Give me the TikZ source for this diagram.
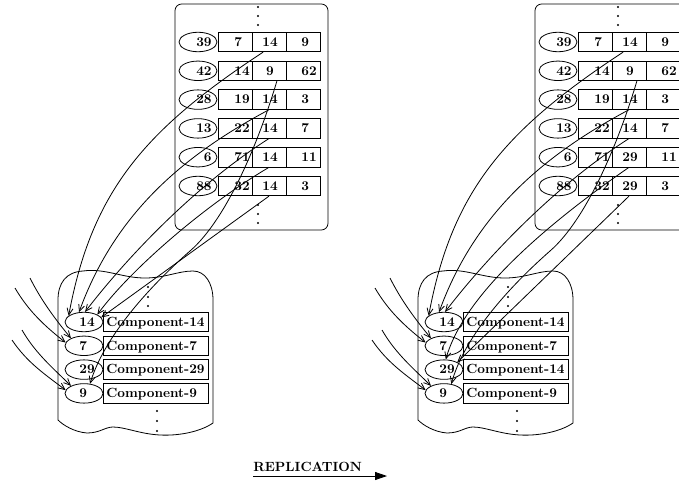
\documentclass[tikz,border=0pt]{standalone}
\usetikzlibrary{arrows.meta,shapes.geometric}

% One table panel: rounded frame, vertical dots, six rows (key oval + three cells)
\newcommand\tablepanel[2]{%
  \draw[rounded corners=5pt] (175,4) rectangle (328,230);
  \foreach \yy in {7,16,25,205,214,223} \fill (258,\yy) circle (1.1);
  \foreach \k/\a/\b/\c [count=\i] in {#2} {%
    \pgfmathsetmacro\ry{42+(\i-1)*28.8}
    \node[keyoval] (#1k\i) at (198,\ry) {};
    \node[numtext, anchor=base east] (#1kt\i) at (212,\ry+4.3) {\k};
    \node[cellbox] (#1a\i) at (235,\ry) {};
    \node[cellbox] (#1b\i) at (269,\ry) {};
    \node[cellbox] (#1c\i) at (303,\ry) {};
    \node[numtext, anchor=base west] (#1at\i) at (234,\ry+4.3) {\a};
    \node[numtext, anchor=base] (#1bt\i) at (270,\ry+4.3) {\b};
    \node[numtext, anchor=base west] (#1ct\i) at (301,\ry+4.3) {\c};
  }%
}

% One component store: wavy container, dots, four rows, incoming arrows from the left
\newcommand\comppanel[2]{%
  \draw (58,420) -- (58,300) .. controls (58,283) and (66,272) .. (83,271)
     .. controls (105,268) and (122,278) .. (145,278)
     .. controls (165,278) and (178,271) .. (193,271)
     .. controls (205,271) and (213,283) .. (213,300)
     -- (213,423)
     .. controls (200,432) and (178,436) .. (160,435)
     .. controls (140,434) and (125,427) .. (113,427)
     .. controls (105,427) and (100,433) .. (87,433)
     .. controls (74,432) and (63,425) .. (58,420) -- cycle;
  \foreach \yy in {287,297,306} \fill (148,\yy) circle (1.1);
  \foreach \yy in {411,421,431} \fill (157,\yy) circle (1.1);
  \foreach \k/\t [count=\i] in {#2} {%
    \pgfmathsetmacro\ry{322+(\i-1)*23.8}
    \node[keyoval] (#1q\i) at (84,\ry) {};
    \node[numtext, anchor=base west] (#1qt\i) at (79,\ry+4.3) {\k};
    \node[compbox] (#1m\i) at (155.5,\ry) {};
    \node[numtext, anchor=base west] (#1mt\i) at (106,\ry+4.3) {\t};
  }%
  \coordinate (#1e1) at (30,278);
  \coordinate (#1e2) at (15,288);
  \coordinate (#1e3) at (22,330);
  \coordinate (#1e4) at (12,340);
  \draw[linkarrow] (#1e1) .. controls (41,300) and (55,319) .. (#1q2.150);
  \draw[linkarrow] (#1e2) .. controls (29,312) and (46,327) .. (#1q2.170);
  \draw[linkarrow] (#1e3) .. controls (35.5,353.5) and (53.5,368.5) .. (#1q4.150);
  \draw[linkarrow] (#1e4) .. controls (27.4,363) and (46,375) .. (#1q4.170);
}

\begin{document}
\begin{tikzpicture}[x=0.75pt,y=-0.75pt,
  line width=0.6pt,
  every node/.style={font=\bfseries\fontsize{10}{12}\selectfont},
  cellbox/.style={draw, rectangle, minimum width=25.5pt, minimum height=14.6pt, inner sep=0pt},
  keyoval/.style={draw, ellipse, minimum width=28.5pt, minimum height=14.6pt, inner sep=0pt},
  compbox/.style={draw, rectangle, minimum width=78.75pt, minimum height=14.6pt, inner sep=0pt},
  numtext/.style={inner sep=0pt},
  linkarrow/.style={-{Straight Barb[length=5pt,width=4.5pt]}},
]
\useasboundingbox (0,0) rectangle (679,482);

% ---------- before replication ----------
\tablepanel{L}{39/7/14/9, 42/14/9/62, 28/19/14/3, 13/22/14/7, 6/71/14/11, 88/32/14/3}
\comppanel{L}{14/Component-14, 7/Component-7, 29/Component-29, 9/Component-9}

\draw[linkarrow] (Lb1.-120) .. controls (146,129) and (92,190) .. (Lq1.158);
\draw[linkarrow] (Lb3.south) .. controls (180,157) and (114,216) .. (Lq1.117);
\draw[linkarrow] (Lb4.south) .. controls (196,185) and (128,256) .. (Lq1.84);
\draw[linkarrow] (Lb5.south) .. controls (205,205) and (130,270) .. (Lq1.29);
\draw[linkarrow] (Lb6.south) -- (Lq1.15);
\draw[linkarrow] (Lb2.-52) .. controls (260,138) and (228,218) .. (190,251)
   .. controls (145,290.6) and (103.5,339) .. (Lq4.58);

% ---------- after replication ----------
\begin{scope}[xshift=270pt]
\tablepanel{R}{39/7/14/9, 42/14/9/62, 28/19/14/3, 13/22/14/7, 6/71/29/11, 88/32/29/3}
\comppanel{R}{14/Component-14, 7/Component-7, 29/Component-14, 9/Component-9}

\draw[linkarrow] (Rb1.-120) .. controls (146,129) and (92,190) .. (Rq1.158);
\draw[linkarrow] (Rb3.south) .. controls (180,157) and (114,216) .. (Rq1.117);
\draw[linkarrow] (Rb4.south) .. controls (196,185) and (128,256) .. (Rq1.84);
\draw[linkarrow] (Rb5.south) .. controls (200,215) and (105,290) .. (Rq3.80);
\draw[linkarrow] (Rb6.south) -- (Rq3.29);
\draw[linkarrow] (Rb2.-52) .. controls (260,138) and (228,218) .. (190,251)
   .. controls (145,290.6) and (103.5,339) .. (Rq4.52);
\end{scope}

% ---------- caption arrow ----------
\node[numtext, anchor=base west] (rep) at (253,471) {REPLICATION};
\coordinate (repA) at (253,476);
\coordinate (repB) at (387,476);
\draw[-{Triangle[length=9pt,width=6pt]}] (repA) -- (repB);
\end{tikzpicture}
\end{document}
